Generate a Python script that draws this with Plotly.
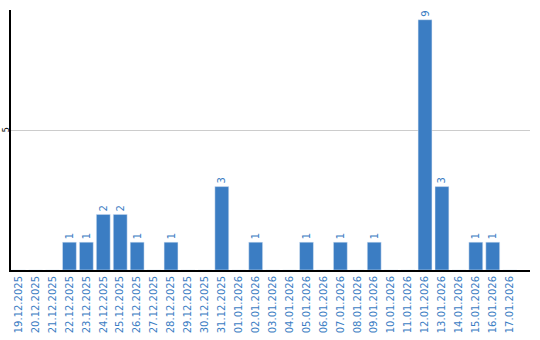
import plotly.graph_objects as go

dates = ["19.12.2025","20.12.2025","21.12.2025","22.12.2025","23.12.2025","24.12.2025",
         "25.12.2025","26.12.2025","27.12.2025","28.12.2025","29.12.2025","30.12.2025",
         "31.12.2025","01.01.2026","02.01.2026","03.01.2026","04.01.2026","05.01.2026",
         "06.01.2026","07.01.2026","08.01.2026","09.01.2026","10.01.2026","11.01.2026",
         "12.01.2026","13.01.2026","14.01.2026","15.01.2026","16.01.2026","17.01.2026"]
counts = [0,0,0,1,1,2,2,1,0,1,0,0,3,0,1,0,0,1,0,1,0,1,0,0,9,3,0,1,1,0]

color = "#3b7dc3"
labels = [str(v) if v > 0 else "" for v in counts]

fig = go.Figure(go.Bar(
    x=list(range(len(dates))), y=counts, marker_color=color, width=0.82,
    text=labels, textposition="outside", textangle=-90,
    textfont=dict(family="DejaVu Sans", size=10, color=color),
    cliponaxis=False,
))
fig.update_layout(
    width=540, height=340, margin=dict(l=11, r=10, t=10, b=70),
    plot_bgcolor="white", paper_bgcolor="white", showlegend=False,
    bargap=0.18,
)
fig.update_xaxes(
    range=[-0.45, 30.2], tickmode="array", tickvals=list(range(len(dates))),
    ticktext=dates, tickangle=-90, tickfont=dict(family="DejaVu Sans", size=10, color=color),
    showgrid=False, showline=True, linecolor="black", linewidth=2, ticks="",
    zeroline=False, automargin=False,
)
fig.update_yaxes(
    range=[0, 9.35], tickvals=[5], ticktext=["5"], tickangle=-90,
    tickfont=dict(family="DejaVu Sans", size=8, color="black"),
    ticklabelstandoff=-3,
    showgrid=True, gridcolor="#cccccc", gridwidth=1,
    showline=True, linecolor="black", linewidth=2, ticks="", zeroline=False,
    automargin=False,
)
fig.write_html("out.html")
